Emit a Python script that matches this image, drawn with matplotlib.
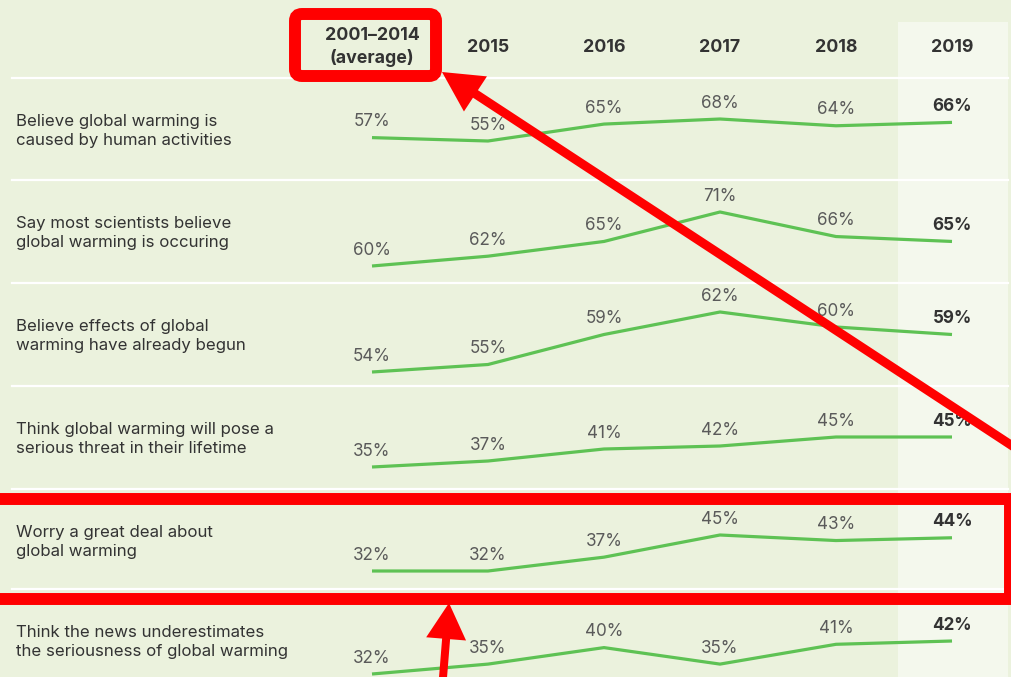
import matplotlib.pyplot as plt
from matplotlib.patches import Rectangle, FancyBboxPatch, FancyArrow

plt.rcParams['font.family'] = ['Inter', 'DejaVu Sans']

# ==================== data ====================
columns = ['2001–2014\n(average)', '2015', '2016', '2017', '2018', '2019']
row_labels = [
    'Believe global warming is\ncaused by human activities',
    'Say most scientists believe\nglobal warming is occuring',
    'Believe effects of global\nwarming have already begun',
    'Think global warming will pose a\nserious threat in their lifetime',
    'Worry a great deal about\nglobal warming',
    'Think the news underestimates\nthe seriousness of global warming',
]
human_caused = [57, 55, 65, 68, 64, 66]
scientists_agree = [60, 62, 65, 71, 66, 65]
already_begun = [54, 55, 59, 62, 60, 59]
threat_lifetime = [35, 37, 41, 42, 45, 45]
worry_great_deal = [32, 32, 37, 45, 43, 44]
news_underestimates = [32, 35, 40, 35, 41, 42]
series = [human_caused, scientists_agree, already_begun,
          threat_lifetime, worry_great_deal, news_underestimates]

# ==================== layout (pixels) ====================
W, H = 1011, 677
BG = '#ebf2dd'
BAND = '#f4f8ed'
GREEN = '#5ec254'
x0, dx = 372, 116              # first column centre, column spacing
separators = [78, 180, 283, 386, 489, 589]
# pixel span (top = max value, bottom = min value) of each row's line
row_spans = [(119, 141), (212, 266), (312, 372), (437, 467), (535, 571), (641, 674)]

fig = plt.figure(figsize=(W / 100, H / 100), dpi=100)
fig.patch.set_facecolor(BG)

base = fig.add_axes([0, 0, 1, 1])
base.set_xlim(0, W)
base.set_ylim(H, 0)
base.axis('off')

# highlighted 2019 column
base.add_patch(Rectangle((898, 22), 110, H, color=BAND, lw=0, zorder=0))
for y in separators:
    base.plot([12, 1008], [y, y], color='white', lw=1.6, zorder=1)

# header
for i, col in enumerate(columns):
    base.text(x0 + dx * i, 47, col, ha='center', va='center', fontsize=12.8,
              fontweight='bold', color='#333333', linespacing=1.3)

# row labels
for lab, y in zip(row_labels, separators):
    base.text(16, y + 53, lab, ha='left', va='center', fontsize=12.1,
              color='#333333', linespacing=1.38)

# one axes per row so each line has its own y scale
xs = list(range(len(columns)))
for vals, (ptop, pbot) in zip(series, row_spans):
    ax = fig.add_axes([0, 1 - pbot / H, 1, (pbot - ptop) / H])
    ax.set_xlim(-x0 / dx, (W - x0) / dx)
    ax.set_ylim(min(vals), max(vals))
    ax.axis('off')
    ax.patch.set_alpha(0)
    ax.plot(xs, vals, color=GREEN, lw=2.3, clip_on=False, solid_capstyle='butt')
    for i, v in zip(xs, vals):
        last = i == len(xs) - 1
        ax.annotate(f'{v}%', (i, v), xytext=(0, 11.5), textcoords='offset points',
                    ha='center', va='center', fontsize=12.3,
                    fontweight='bold' if last else 'normal',
                    color='#333333' if last else '#5a5a5a',
                    annotation_clip=False)

# red call-outs on top
top = fig.add_axes([0, 0, 1, 1], zorder=10)
top.set_xlim(0, W)
top.set_ylim(H, 0)
top.axis('off')
top.patch.set_alpha(0)
top.add_patch(FancyBboxPatch((295, 14), 141, 62, boxstyle='round,pad=0,rounding_size=7',
                             fill=False, ec='#ff0000', lw=8.6))
top.add_patch(Rectangle((-20, 499), 1030, 100, fill=False, ec='#ff0000', lw=8.6))
top.add_patch(FancyArrow(1030, 457.5, 442 - 1030, 72 - 457.5, width=9, head_width=42,
                         head_length=40, length_includes_head=True, color='#ff0000', lw=0))
top.add_patch(FancyArrow(442, 690, 7, 603 - 690, width=8, head_width=40,
                         head_length=36, length_includes_head=True, color='#ff0000', lw=0))

fig.savefig('out.png', dpi=100, facecolor=BG)
